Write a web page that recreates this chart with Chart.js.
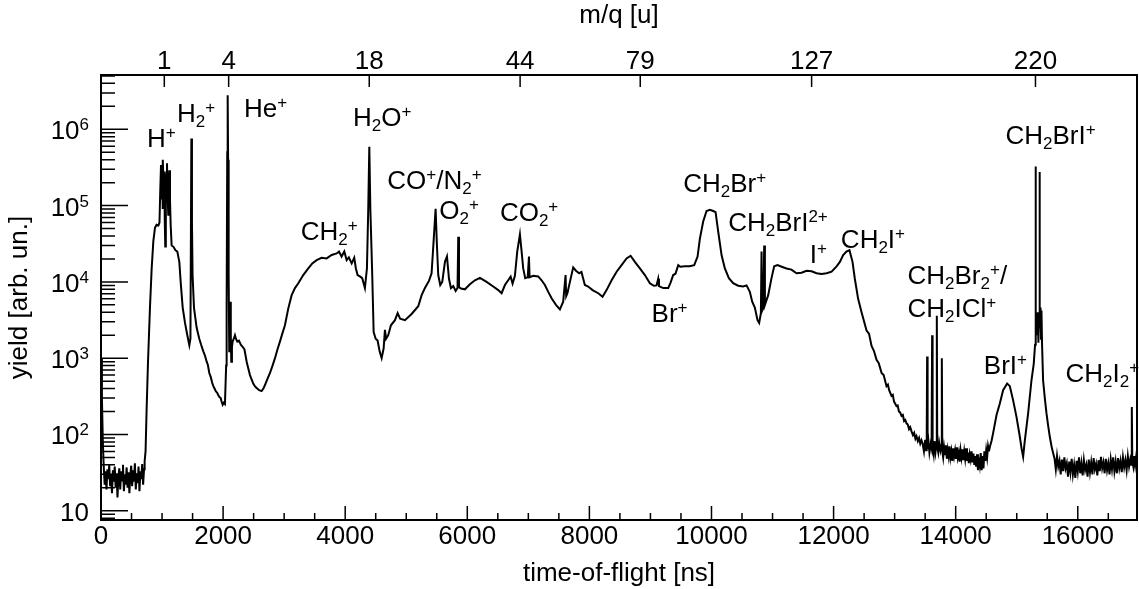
<!DOCTYPE html>
<html>
<head>
<meta charset="utf-8">
<script src="https://cdn.jsdelivr.net/npm/chart.js@4.4.1/dist/chart.umd.min.js"></script>
<style>
  html, body { margin: 0; padding: 0; background: #fff; }
</style>
</head>
<body>
<canvas id="myChart" width="1139" height="589"></canvas>
<script>
// time-of-flight spectrum, [tof in ns, yield]
const spectrum = [
  [0,1000],[15,300],[30,80],[45,38],[60,22],[75,33],[90,19],[105,35],[120,26],[135,40],[150,21],[165,30],
  [180,17],[195,34],[210,24],[225,38],[240,20],[255,31],[270,15],[285,28],[300,36],[315,19],[330,33],[345,25],
  [360,40],[375,18],[390,30],[405,22],[420,37],[435,20],[450,32],[465,17],[480,29],[495,39],[510,21],[525,34],
  [540,24],[555,42],[570,19],[585,31],[600,23],[615,38],[630,18],[645,33],[660,26],[675,41],[690,22],[705,35],
  [715,45],[730,60],[748,225],[770,900],[802,4600],[830,15000],[857,34000],[884,51000],[910,56000],[940,55000],
  [958,60000],[970,150000],[983,340000],[992,120000],[1000,300000],[1008,90000],[1015,400000],[1025,200000],
  [1035,280000],[1045,60000],[1053,29000],[1062,150000],[1072,250000],[1081,360000],[1090,150000],[1102,76000],
  [1110,200000],[1119,290000],[1130,120000],[1141,56000],[1157,30000],[1185,29000],[1220,26000],[1250,25000],
  [1283,18300],[1305,10000],[1338,4600],[1376,2900],[1414,2000],[1447,1480],[1465,1800],[1480,760000],
  [1490,60000],[1500,12300],[1523,4600],[1567,2500],[1610,1800],[1640,1500],[1676,1230],[1700,1100],[1731,900],
  [1750,820],[1774,640],[1800,560],[1820,480],[1840,430],[1860,400],[1880,370],[1905,350],[1920,330],[1940,310],
  [1960,300],[1975,270],[1993,245],[2010,260],[2030,250],[2050,800],[2058,4600],[2068,500000],[2075,2800000],
  [2082,400000],[2091,12300],[2101,1230],[2110,3000],[2118,5500],[2126,2000],[2134,900],[2145,1400],[2156,1650],
  [2175,1800],[2194,2000],[2210,1800],[2233,1650],[2260,1700],[2290,1500],[2320,1410],[2350,1300],[2386,900],
  [2410,750],[2440,600],[2470,520],[2494,465],[2520,430],[2545,410],[2560,400],[2590,380],[2631,370],[2660,400],
  [2686,445],[2720,520],[2768,640],[2810,800],[2850,1000],[2890,1300],[2931,1650],[2970,2100],[3013,2700],
  [3068,4500],[3123,6700],[3177,8300],[3232,9600],[3313,12300],[3395,15000],[3461,17500],[3532,19300],
  [3614,20700],[3696,20300],[3778,22500],[3860,23600],[3898,25000],[3941,21500],[3985,25000],[4024,19300],
  [4060,21000],[4106,17500],[4148,20700],[4175,15000],[4203,12300],[4240,11800],[4279,11200],[4323,8300],
  [4356,15000],[4378,94000],[4395,590000],[4412,90000],[4443,12300],[4466,2200],[4499,1800],[4531,1700],
  [4564,1230],[4597,1000],[4630,1350],[4651,2350],[4670,1800],[4705,2000],[4749,2700],[4815,3150],[4859,3900],
  [4900,3300],[4979,3150],[5088,3800],[5197,4800],[5252,6700],[5306,8300],[5372,10300],[5415,13000],[5448,34000],
  [5481,91000],[5500,34000],[5524,12300],[5557,9100],[5590,10000],[5634,18300],[5667,21500],[5700,11000],
  [5732,8300],[5770,8800],[5809,7600],[5840,8300],[5852,39000],[5864,8500],[5896,8200],[5961,8000],[6043,9300],
  [6125,10500],[6207,11300],[6316,10000],[6425,8700],[6507,7800],[6562,7100],[6616,9100],[6670,10500],
  [6710,11700],[6742,9500],[6780,12000],[6818,25000],[6862,42000],[6890,25000],[6916,15000],[6949,11200],
  [6990,11500],[7010,21500],[7020,11500],[7080,12000],[7162,11800],[7217,10500],[7271,9100],[7326,7400],
  [7381,6100],[7452,5000],[7517,4350],[7571,5500],[7610,12300],[7620,6500],[7640,7100],[7681,10000],[7735,15500],
  [7780,14000],[7833,13000],[7870,13500],[7926,9100],[7980,8700],[8052,7800],[8145,7100],[8216,6400],[8281,7800],
  [8364,10500],[8446,13600],[8527,16600],[8609,20300],[8675,22000],[8745,18300],[8827,15000],[8909,12300],
  [8991,9600],[9056,8900],[9100,9000],[9127,11000],[9140,8800],[9209,8300],[9291,8300],[9330,9800],[9373,12300],
  [9410,12800],[9455,16600],[9490,15800],[9564,16000],[9640,16000],[9717,16600],[9772,21500],[9810,37000],
  [9864,62000],[9919,85000],[9974,88000],[10028,85000],[10067,82000],[10110,45500],[10165,22500],[10219,15000],
  [10285,11200],[10355,9600],[10437,8900],[10519,8700],[10574,9000],[10628,7400],[10667,5500],[10710,4600],
  [10754,3150],[10781,2900],[10809,3900],[10820,25000],[10830,4200],[10850,4600],[10863,30000],[10875,5000],
  [10929,6700],[10983,11200],[11027,16000],[11082,16600],[11150,15800],[11229,15000],[11310,14500],[11393,13000],
  [11475,13200],[11557,14000],[11640,13800],[11721,13000],[11803,12700],[11885,13000],[11967,13600],[12049,16000],
  [12103,18300],[12157,22500],[12210,25000],[12260,26000],[12310,18300],[12348,11000],[12402,6000],[12458,4000],
  [12540,2300],[12580,2100],[12622,1450],[12660,1250],[12704,950],[12740,860],[12786,640],[12820,600],[12867,430],
  [12890,450],[12910,380],[12949,320],[12970,330],[12990,270],[13031,235],[13050,240],[13070,200],[13090,195],
  [13113,175],[13135,180],[13155,150],[13175,155],[13195,140],[13215,135],[13235,118],[13255,125],[13277,110],
  [13300,98],[13320,105],[13340,88],[13358,95],[13380,82],[13400,90],[13420,76],[13440,84],[13460,75],[13480,60],
  [13500,85],[13515,62],[13525,70],[13532,1050],[13540,65],[13555,80],[13570,58],[13590,75],[13605,66],
  [13614,2000],[13622,70],[13640,55],[13655,82],[13670,60],[13684,75],[13691,3600],[13698,68],[13715,58],
  [13730,78],[13750,62],[13765,72],[13773,1000],[13781,60],[13795,50],[13810,68],[13825,55],[13840,72],[13855,48],
  [13870,63],[13885,52],[13900,70],[13915,50],[13930,60],[13945,45],[13960,66],[13975,52],[13990,62],[14005,48],
  [14020,68],[14035,50],[14050,58],[14065,44],[14080,62],[14095,50],[14110,64],[14125,46],[14140,60],[14155,48],
  [14170,66],[14185,45],[14200,58],[14215,42],[14230,55],[14245,47],[14260,60],[14275,43],[14290,56],[14305,40],
  [14320,52],[14335,38],[14350,55],[14365,34],[14380,50],[14395,40],[14410,57],[14425,34],[14440,52],[14455,36],
  [14470,60],[14485,45],[14500,62],[14515,50],[14530,70],[14545,60],[14560,69],[14587,82],[14614,105],[14669,180],
  [14723,255],[14777,380],[14843,465],[14887,430],[14941,280],[14996,170],[15050,94],[15080,65],[15105,51],
  [15130,80],[15187,190],[15241,510],[15279,850],[15300,1500],[15307,325000],[15315,3000],[15330,2000],
  [15345,4000],[15355,1600],[15365,3500],[15372,276000],[15380,2500],[15390,4600],[15398,1800],[15405,4200],
  [15415,1500],[15432,510],[15460,300],[15487,190],[15515,130],[15541,94],[15570,70],[15596,57],[15620,48],
  [15640,35],[15660,52],[15680,38],[15700,45],[15720,30],[15740,47],[15760,33],[15780,50],[15800,36],[15820,42],
  [15840,28],[15860,44],[15880,32],[15900,48],[15920,30],[15940,40],[15960,27],[15980,45],[16000,33],[16020,50],
  [16040,31],[16060,42],[16080,29],[16100,46],[16120,34],[16140,40],[16160,28],[16180,47],[16200,32],[16220,43],
  [16240,30],[16260,49],[16280,35],[16300,41],[16320,29],[16340,46],[16360,33],[16380,51],[16400,36],[16420,43],
  [16440,31],[16460,48],[16480,34],[16500,42],[16520,30],[16540,47],[16560,35],[16580,50],[16600,33],[16620,44],
  [16640,31],[16660,49],[16680,36],[16700,45],[16720,32],[16740,50],[16760,37],[16780,46],[16800,34],[16820,52],
  [16840,38],[16860,47],[16875,40],[16885,230],[16893,45],[16910,38],[16925,52],[16940,40],[16955,50],[16970,42]
];

// lower axis tick labels (ns)
const xTickVals = [0, 2000, 4000, 6000, 8000, 10000, 12000, 14000, 16000];

// upper axis: m/q values and where they sit on the tof axis
const topTickMass = [1, 4, 18, 44, 79, 127, 220];
const topTickTof = [1037, 2091, 4394, 6865, 8833, 11640, 15307];

// decades labelled on the yield axis
const yTickExps = [1, 2, 3, 4, 5, 6];

// peak labels: _{..} subscript, ^{..} superscript; anchored at left/baseline
const annText = ['H^{+}', 'H_{2}^{+}', 'He^{+}', 'H_{2}O^{+}', 'CH_{2}^{+}', 'CO^{+}/N_{2}^{+}', 'O_{2}^{+}',
  'CO_{2}^{+}', 'CH_{2}Br^{+}', 'CH_{2}BrI^{2+}', 'Br^{+}', 'I^{+}', 'CH_{2}I^{+}', 'CH_{2}Br_{2}^{+}/',
  'CH_{2}ICl^{+}', 'CH_{2}BrI^{+}', 'BrI^{+}', 'CH_{2}I_{2}^{+}'];
const annTof = [753, 1245, 2342, 4127, 3270, 4689, 5540, 6534, 9536, 10273, 9019, 11611, 12119, 13211, 13211,
  14816, 14461, 15799];
const annYield = [5.92e5, 1.26e6, 1.43e6, 1.10e6, 3.54e4, 1.63e5, 6.67e4, 6.28e4, 1.52e5, 4.64e4, 3.0e3, 1.75e4,
  2.78e4, 9.38e3, 3.47e3, 6.41e5, 615, 483];

const xMax = 16970;
const yMin = 7.57;
const yMax = 5.15e6;

const FAMILY = '"Liberation Sans", Arial, Helvetica, sans-serif';
const BIG = '26px ' + FAMILY;
const SMALL = '17px ' + FAMILY;

function parseRich(str) {
    const parts = [];
    const re = /([_^])\{([^}]*)\}/g;
    let last = 0, m;
    while ((m = re.exec(str))) {
        if (m.index > last) parts.push({ t: str.slice(last, m.index), k: 0 });
        parts.push({ t: m[2], k: m[1] === '_' ? 1 : -1 });
        last = re.lastIndex;
    }
    if (last < str.length) parts.push({ t: str.slice(last), k: 0 });
    return parts;
}

// draws text with sub/superscripts, x is left or right edge, y is baseline
function drawRich(ctx, str, x, y, align) {
    const parts = parseRich(str);
    let w = 0;
    parts.forEach(p => {
        ctx.font = p.k ? SMALL : BIG;
        p.w = ctx.measureText(p.t).width;
        w += p.w;
    });
    let cx = align === 'right' ? x - w : x;
    ctx.textAlign = 'left';
    ctx.textBaseline = 'alphabetic';
    parts.forEach(p => {
        ctx.font = p.k ? SMALL : BIG;
        const dy = p.k === 1 ? 5 : (p.k === -1 ? -9 : 0);
        ctx.fillText(p.t, cx, y + dy);
        cx += p.w;
    });
}

// frame, inward ticks, y labels and peak labels
const frameAndLabels = {
    id: 'frameAndLabels',
    afterDraw(chart) {
        const ctx = chart.ctx;
        const area = chart.chartArea;
        const xs = chart.scales.x, ys = chart.scales.y;
        ctx.save();
        ctx.strokeStyle = '#000';
        ctx.fillStyle = '#000';
        ctx.lineWidth = 1.5;
        ctx.beginPath();
        for (let t = 0; t <= xMax; t += 500) {
            const px = xs.getPixelForValue(t);
            ctx.moveTo(px, area.bottom);
            ctx.lineTo(px, area.bottom - (t % 2000 === 0 ? 14 : 7));
        }
        topTickTof.forEach(v => {
            const px = xs.getPixelForValue(v);
            ctx.moveTo(px, area.top);
            ctx.lineTo(px, area.top + 12);
        });
        for (let e = 0; e <= 6; e++) {
            for (let k = 1; k <= 9; k++) {
                const v = k * Math.pow(10, e);
                if (v < yMin || v > yMax) continue;
                const py = ys.getPixelForValue(v);
                ctx.moveTo(area.left, py);
                ctx.lineTo(area.left + (k === 1 ? 27 : 14), py);
            }
        }
        ctx.stroke();
        ctx.lineWidth = 2;
        ctx.strokeRect(area.left, area.top, area.right - area.left, area.bottom - area.top);

        yTickExps.forEach(e => {
            const py = ys.getPixelForValue(Math.pow(10, e));
            drawRich(ctx, e === 1 ? '10' : '10^{' + e + '}', area.left - 12, py + 10, 'right');
        });
        annText.forEach((s, i) => {
            drawRich(ctx, s, xs.getPixelForValue(annTof[i]), ys.getPixelForValue(annYield[i]), 'left');
        });
        ctx.restore();
    }
};

const axisFont = { family: FAMILY, size: 26, lineHeight: 1 };
const titleFont = { family: FAMILY, size: 26 };

const ctx = document.getElementById('myChart').getContext('2d');
const myChart = new Chart(ctx, {
    type: 'line',
    data: {
        datasets: [{
            data: spectrum.map(p => ({ x: p[0], y: p[1] })),
            borderColor: '#000',
            borderWidth: 2,
            pointRadius: 0,
            fill: false,
            tension: 0,
            xAxisID: 'x',
            yAxisID: 'y'
        }]
    },
    options: {
        responsive: false,
        devicePixelRatio: 1,
        animation: false,
        events: [],
        layout: { padding: { left: 0, right: 2, top: 0, bottom: 0 } },
        plugins: { legend: { display: false }, tooltip: { enabled: false } },
        scales: {
            x: {
                type: 'linear',
                position: 'bottom',
                min: 0,
                max: xMax,
                grid: { display: false, drawTicks: false },
                border: { display: false },
                afterBuildTicks: s => { s.ticks = xTickVals.map(v => ({ value: v })); },
                ticks: {
                    autoSkip: false,
                    maxRotation: 0,
                    padding: 4,
                    color: '#000',
                    font: axisFont,
                    callback: (v, i) => String(xTickVals[i])
                },
                title: { display: true, text: 'time-of-flight [ns]', color: '#000', font: titleFont, padding: 0 },
                afterFit: s => { s.height = 69; }
            },
            x2: {
                type: 'linear',
                position: 'top',
                min: 0,
                max: xMax,
                grid: { display: false, drawTicks: false },
                border: { display: false },
                afterBuildTicks: s => { s.ticks = topTickTof.map(v => ({ value: v })); },
                ticks: {
                    autoSkip: false,
                    maxRotation: 0,
                    padding: 0,
                    color: '#000',
                    font: axisFont,
                    callback: (v, i) => String(topTickMass[i])
                },
                title: { display: true, text: 'm/q [u]', color: '#000', font: titleFont, padding: 0 },
                afterFit: s => { s.height = 75; }
            },
            y: {
                type: 'logarithmic',
                position: 'left',
                min: yMin,
                max: yMax,
                grid: { display: false, drawTicks: false },
                border: { display: false },
                ticks: { display: false },
                title: { display: true, text: 'yield [arb. un.]', color: '#000', font: titleFont, padding: { top: 4, bottom: 0 } },
                afterFit: s => { s.width = 101; }
            }
        }
    },
    plugins: [frameAndLabels]
});
</script>
</body>
</html>
